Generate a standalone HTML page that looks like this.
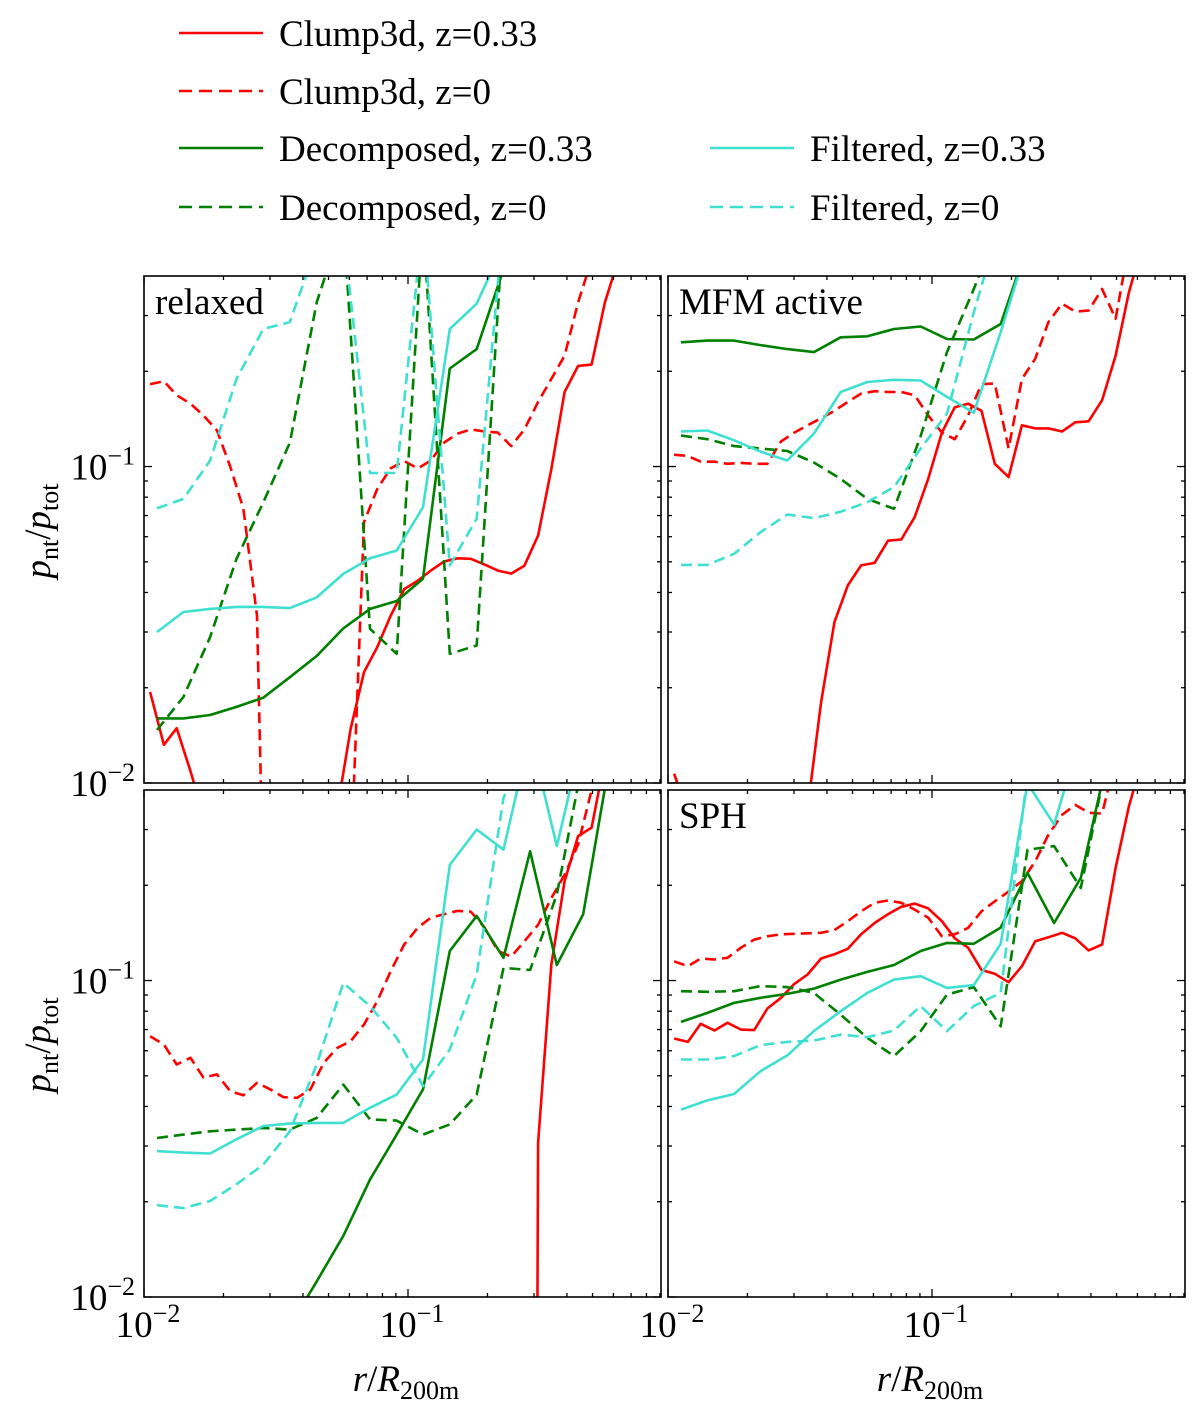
<!DOCTYPE html>
<html><head><meta charset="utf-8"><style>
html,body{margin:0;padding:0;background:#fff;width:1200px;height:1409px;overflow:hidden;}
svg{display:block;font-family:"Liberation Serif","DejaVu Serif",serif;}
text{font-family:"Liberation Serif","DejaVu Serif",serif;}
</style></head><body>
<svg id="fig" width="1200" height="1409" viewBox="0 0 1200 1409" font-family="Liberation Serif, DejaVu Serif, serif" xmlns="http://www.w3.org/2000/svg"></svg>
<script>
// ---- data ----
const rCoarse = [0.0112,0.0141,0.0178,0.0224,0.0283,0.0357,0.0451,0.0569,0.0718,0.0906,0.114,0.144,0.182,0.230,0.290,0.366,0.461,0.582,0.734];
const rFine = [0.01055,0.0119,0.0133,0.0150,0.0168,0.0189,0.0212,0.0238,0.0268,0.0301,0.0338,0.0380,0.0427,0.0480,0.0539,0.0606,0.0681,0.0765,0.0860,0.0967,0.109,0.122,0.137,0.154,0.173,0.195,0.219,0.246,0.276,0.311,0.349,0.392,0.441,0.496,0.557,0.626,0.704];
const panelNames = ["relaxed","MFM active","","SPH"];
const seriesNames = ["Clump3d, z=0.33","Clump3d, z=0","Decomposed, z=0.33","Decomposed, z=0","Filtered, z=0.33","Filtered, z=0"];
const xTicks = [0.01,0.1];
const yTicks = [0.01,0.1];
const xTickLabels = ["10^-2","10^-1"];
const yTickLabels = ["10^-2","10^-1"];

// relaxed
const relaxedClumpZ033 = [0.0194,0.0132,0.0149,0.0109,0.0079,null,null,null,null,null,null,null,null,null,0.0082,0.0148,0.0224,0.0269,0.0338,0.0410,0.0436,0.0469,0.0501,0.0513,0.0511,0.0490,0.0469,0.0459,0.0486,0.0605,0.098,0.172,0.208,0.210,0.330,0.45];
const relaxedClumpZ0 = [0.182,0.186,0.168,0.158,0.145,0.130,0.100,0.0735,0.0338,0.0005,null,null,null,null,null,0.0053,0.0667,0.085,0.0987,0.104,0.0986,0.1045,0.119,0.127,0.131,0.129,0.128,0.116,0.131,0.160,0.189,0.224,0.33,0.45];
const relaxedDecompZ033 = [0.0160,0.0160,0.0164,0.0174,0.0186,0.0216,0.0252,0.0308,0.0355,0.0376,0.0442,0.204,0.235,0.42];
const relaxedDecompZ0 = [0.0147,0.0187,0.0289,0.0511,0.0771,0.119,0.33,0.6,0.0307,0.0256,0.6,0.0256,0.0272,0.6];
const relaxedFiltZ033 = [0.0300,0.0347,0.0355,0.0360,0.0360,0.0357,0.0386,0.0458,0.0513,0.0543,0.0744,0.272,0.327,0.5];
const relaxedFiltZ0 = [0.0738,0.079,0.1045,0.189,0.272,0.286,0.5,0.55,0.0954,0.0954,0.6,0.0487,0.0684,0.6];
// MFM active
const mfmClumpZ033 = [0.0107,0.008,null,null,null,null,null,null,null,null,0.0083,0.0180,0.0322,0.0421,0.0487,0.0496,0.0583,0.0588,0.0692,0.0914,0.128,0.154,0.158,0.150,0.102,0.0926,0.135,0.132,0.132,0.129,0.138,0.139,0.162,0.224,0.355,0.5];
const mfmClumpZ0 = [0.109,0.108,0.1036,0.1036,0.102,0.1027,0.102,0.102,0.120,0.128,0.135,0.142,0.150,0.160,0.170,0.173,0.172,0.172,0.168,0.145,0.128,0.122,0.145,0.182,0.183,0.114,0.189,0.219,0.286,0.327,0.309,0.311,0.364,0.293,0.5];
const mfmDecompZ033 = [0.247,0.250,0.250,0.242,0.235,0.230,0.256,0.258,0.272,0.277,0.253,0.252,0.282,0.5];
const mfmDecompZ0 = [0.1253,0.122,0.116,0.114,0.112,0.103,0.0914,0.079,0.0735,0.125,0.230,0.364,0.6];
const mfmFiltZ033 = [0.129,0.130,0.121,0.1115,0.1045,0.127,0.172,0.185,0.188,0.187,0.166,0.148,0.266,0.5];
const mfmFiltZ0 = [0.0489,0.0489,0.053,0.062,0.0705,0.0687,0.072,0.0771,0.0861,0.114,0.147,0.307,0.6];
// bottom-left
const blClumpZ033 = [null,null,null,null,null,null,null,null,null,null,null,null,null,null,null,null,null,null,null,null,null,null,null,null,null,null,null,null,1e-12,0.0307,0.112,0.206,0.286,0.304,0.5];
const blClumpZ0 = [0.0667,0.0628,0.0543,0.057,0.0493,0.0505,0.0447,0.0434,0.0475,0.0453,0.0428,0.0426,0.0453,0.0550,0.0612,0.0643,0.0726,0.0861,0.107,0.130,0.147,0.158,0.162,0.166,0.165,0.147,0.124,0.119,0.133,0.150,0.182,0.216,0.269,0.4,0.5];
const blDecompZ033 = [null,null,null,null,null,0.0081,0.0112,0.0156,0.0235,0.0326,0.0453,0.124,0.160,0.118,0.256,0.112,0.162,0.5];
const blDecompZ0 = [0.0318,0.0326,0.0334,0.0338,0.0342,0.0338,0.0368,0.0469,0.0364,0.0361,0.0326,0.0351,0.0436,0.1096,0.108,0.187,0.5];
const blFiltZ033 = [0.0289,0.0286,0.0284,0.0315,0.0347,0.0353,0.0355,0.0355,0.0396,0.0436,0.0563,0.232,0.300,0.259,0.6,0.266,0.6];
const blFiltZ0 = [0.0195,0.0191,0.0201,0.0227,0.0262,0.0334,0.0543,0.0983,0.0830,0.0659,0.0464,0.0605,0.1045,0.378,0.6];
// SPH
const sphClumpZ033 = [0.0656,0.0640,0.0730,0.0695,0.0735,0.0700,0.0697,0.0816,0.0882,0.0976,0.1045,0.1174,0.121,0.126,0.140,0.152,0.162,0.171,0.175,0.169,0.154,0.136,0.127,0.108,0.105,0.0988,0.111,0.133,0.137,0.1415,0.136,0.1245,0.130,0.227,0.355,0.5];
const sphClumpZ0 = [0.115,0.111,0.1174,0.1165,0.118,0.127,0.1347,0.138,0.140,0.1405,0.141,0.1415,0.1443,0.154,0.1655,0.176,0.179,0.176,0.1675,0.158,0.138,0.140,0.1467,0.1655,0.178,0.191,0.206,0.238,0.289,0.334,0.359,0.339,0.337,0.5];
const sphDecompZ033 = [0.0740,0.0790,0.085,0.0882,0.0908,0.0943,0.1007,0.1065,0.112,0.124,0.1315,0.1306,0.147,0.219,0.152,0.211,0.5];
const sphDecompZ0 = [0.0925,0.0921,0.0925,0.096,0.0953,0.0914,0.078,0.0659,0.0577,0.0692,0.0903,0.0953,0.0717,0.259,0.266,0.196,0.5];
const sphFiltZ033 = [0.0391,0.0418,0.0438,0.0517,0.058,0.0692,0.080,0.0914,0.1007,0.1032,0.0948,0.0967,0.1306,0.42,0.311,0.6];
const sphFiltZ0 = [0.0563,0.0563,0.0577,0.0625,0.064,0.0646,0.0675,0.0662,0.0695,0.083,0.0692,0.083,0.0914,0.45];

// ---- layout ----
const NS = "http://www.w3.org/2000/svg";
const FONT = '"Liberation Serif", "DejaVu Serif", serif';
const svg = document.getElementById("fig");
const XMIN = 0.01, YMIN = 0.01, YMAX = 0.4;
const PW = 517, PH = 507, XDEC = 264;
const YDEC = PH / (Math.log10(YMAX) - Math.log10(YMIN));
const panels = [
  {x0:144, y0:276, data:[relaxedClumpZ033,relaxedClumpZ0,relaxedDecompZ033,relaxedDecompZ0,relaxedFiltZ033,relaxedFiltZ0], key:"relaxed"},
  {x0:668, y0:276, data:[mfmClumpZ033,mfmClumpZ0,mfmDecompZ033,mfmDecompZ0,mfmFiltZ033,mfmFiltZ0], key:"mfm-active"},
  {x0:144, y0:790, data:[blClumpZ033,blClumpZ0,blDecompZ033,blDecompZ0,blFiltZ033,blFiltZ0], key:"bottom-left"},
  {x0:668, y0:790, data:[sphClumpZ033,sphClumpZ0,sphDecompZ033,sphDecompZ0,sphFiltZ033,sphFiltZ0], key:"sph"}
];
const styles = [
  {c:"#ff0000",d:null,grid:rFine},{c:"#ff0000",d:"11,6",grid:rFine},
  {c:"#008000",d:null,grid:rCoarse},{c:"#008000",d:"11,6",grid:rCoarse},
  {c:"#40e0d0",d:null,grid:rCoarse},{c:"#40e0d0",d:"11,6",grid:rCoarse}
];
function el(tag, attrs, parent){const e=document.createElementNS(NS,tag);for(const k in attrs)e.setAttribute(k,attrs[k]);if(tag==="text")e.setAttribute("font-family",FONT);(parent||svg).appendChild(e);return e;}
function sx(p,r){return p.x0+(Math.log10(r)-Math.log10(XMIN))*XDEC;}
function sy(p,v){return p.y0+(Math.log10(YMAX)-Math.log10(v))*YDEC;}
function pow10(parent,x,y,label,anchor){
  const exp=label.split("^")[1].replace("-","\u2212");
  const t=el("text",{x:x,y:y,"font-size":"37","text-anchor":anchor,fill:"#000"},parent);
  const a=el("tspan",{},t);a.textContent="10";
  const b=el("tspan",{dy:"-15","font-size":"26"},t);b.textContent=exp;
  return t;
}
const defs=el("defs",{});
panels.forEach((p,pi)=>{
  const g=el("g",{});
  
  
  const cp=el("clipPath",{id:"clip"+pi},defs);
  el("rect",{x:p.x0,y:p.y0,width:PW,height:PH},cp);
  const lines=el("g",{"clip-path":"url(#clip"+pi+")"},g);
  p.data.forEach((vals,si)=>{
    const st=styles[si];
    let d="",pen=false;
    vals.forEach((v,i)=>{
      if(v===null||v<=0||i>=st.grid.length){pen=false;return;}
      d+=(pen?"L":"M")+sx(p,st.grid[i]).toFixed(1)+" "+sy(p,v).toFixed(1)+" ";pen=true;
    });
    const path=el("path",{d:d,fill:"none",stroke:st.c,"stroke-width":"2.6","stroke-linejoin":"round"},lines);
    if(st.d)path.setAttribute("stroke-dasharray",st.d);
    
    
  });
  const tk=el("g",{stroke:"#000","stroke-width":"1.3"},g);
  for(let dec=0.01;dec<1;dec*=10){for(let m=1;m<10;m++){const r=dec*m;const x=sx(p,r);if(x>p.x0+PW-0.5)continue;const L=m===1?8:4;
    el("line",{x1:x,y1:p.y0+PH,x2:x,y2:p.y0+PH-L},tk);el("line",{x1:x,y1:p.y0,x2:x,y2:p.y0+L},tk);}}
  for(let dec=0.01;dec<1;dec*=10){for(let m=1;m<10;m++){const v=dec*m;if(v>=YMAX)continue;const y=sy(p,v);const L=m===1?8:4;
    el("line",{x1:p.x0,y1:y,x2:p.x0+L,y2:y},tk);el("line",{x1:p.x0+PW,y1:y,x2:p.x0+PW-L,y2:y},tk);}}
  const fr=el("rect",{x:p.x0,y:p.y0,width:PW,height:PH,fill:"none",stroke:"#000","stroke-width":"1.6"},g);
  
  
  if(panelNames[pi]){
    const t=el("text",{x:p.x0+11,y:p.y0+38,"font-size":"37",fill:"#000"},g);t.textContent=panelNames[pi];
    
    
  }
  if(pi%2===0){
    yTicks.forEach((v,i)=>{const t=pow10(g,135,sy(p,v)+13,yTickLabels[i],"end");
      
      });
    const yl=el("text",{transform:"translate(50,"+(p.y0+255)+") rotate(-90)","font-size":"37","text-anchor":"middle",fill:"#000"},g);
    
    
    yl.innerHTML='<tspan font-style="italic">p</tspan><tspan font-size="26" dy="8">nt</tspan><tspan dy="-8">/</tspan><tspan font-style="italic">p</tspan><tspan font-size="26" dy="8">tot</tspan>';
  }
  if(pi>=2){
    xTicks.forEach((v,i)=>{const t=pow10(g,sx(p,v)+4,1337,xTickLabels[i],"middle");
      
      });
    const xl=el("text",{x:p.x0+262,y:1391,"font-size":"37","text-anchor":"middle",fill:"#000"},g);
    
    
    xl.innerHTML='<tspan font-style="italic">r</tspan>/<tspan font-style="italic">R</tspan><tspan font-size="26" dy="8">200m</tspan>';
  }
});
const lg=el("g",{});


const legPos=[[179,33],[179,91],[179,148],[179,207],[710,148],[710,207]];
seriesNames.forEach((n,i)=>{
  const [x,y]=legPos[i];const st=styles[i];
  const e=el("g",{},lg);
  
  
  const ln=el("line",{x1:x,y1:y,x2:x+84,y2:y,stroke:st.c,"stroke-width":"2.6"},e);
  if(st.d)ln.setAttribute("stroke-dasharray","13,7");
  const t=el("text",{x:x+100,y:y+13,"font-size":"37",fill:"#000"},e);t.textContent=n;
});
</script>
</body></html>
